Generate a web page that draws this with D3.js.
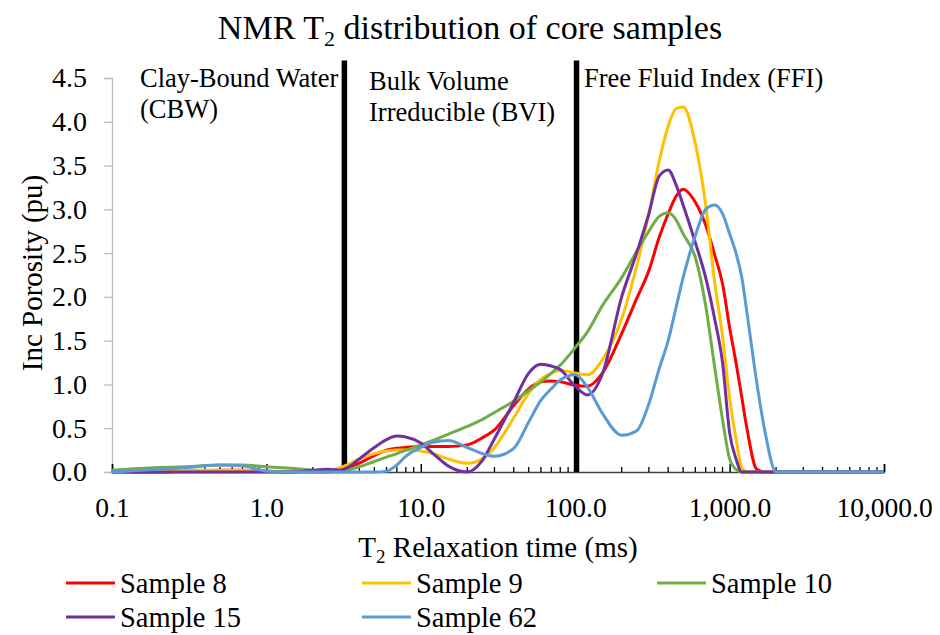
<!DOCTYPE html>
<html>
<head>
<meta charset="utf-8">
<script src="https://cdn.jsdelivr.net/npm/d3@7"></script>
<style>
  body { margin: 0; background: #fff; }
  text { font-family: "Liberation Serif", "Times New Roman", serif; fill: #000; }
</style>
</head>
<body>
<script>
// T2 bins (ms)
var t2 = [0.1, 0.2, 0.3, 0.5, 0.7, 1, 1.5, 2, 2.5, 3, 3.5, 4, 5, 6, 7, 8, 10, 12, 15, 20, 25, 30, 40, 50, 60, 70, 80,
          100, 120, 150, 200, 250, 300, 350, 400, 450, 500, 600, 700, 800, 900, 1000, 1100, 1200, 1300, 1500, 1700,
          2000, 2500, 3000, 5000, 10000];

var sample8  = [0, 0, 0.01, 0.02, 0.02, 0.01, 0, 0, 0, 0.02, 0.06, 0.1, 0.19, 0.25, 0.27, 0.28, 0.29, 0.29, 0.29, 0.31, 0.39, 0.48, 0.76, 0.95, 1.03, 1.04, 1.03,
                0.99, 0.98, 1.13, 1.58, 1.98, 2.3, 2.68, 2.95, 3.15, 3.23, 3.08, 2.82, 2.48, 2.15, 1.65, 1.25, 0.85, 0.48, 0.03, 0,
                0, 0, 0, 0, 0];
var sample9  = [0, 0.01, 0.02, 0.02, 0.02, 0.01, 0, 0, 0.01, 0.05, 0.1, 0.15, 0.21, 0.24, 0.25, 0.25, 0.24, 0.21, 0.15, 0.1, 0.15, 0.28, 0.62, 0.9, 1.06, 1.13, 1.16,
                1.13, 1.11, 1.28, 1.75, 2.35, 2.95, 3.55, 3.95, 4.15, 4.17, 3.75, 3.05, 2.17, 1.55, 0.85, 0.38, 0.05, 0, 0, 0,
                0, 0, 0, 0, 0];
var sample10 = [0.02, 0.05, 0.06, 0.08, 0.08, 0.06, 0.04, 0.02, 0.01, 0, 0.03, 0.06, 0.12, 0.17, 0.21, 0.25, 0.31, 0.36, 0.43, 0.52, 0.6, 0.68, 0.81, 0.93, 1.03, 1.13, 1.22,
                1.42, 1.6, 1.9, 2.22, 2.52, 2.75, 2.92, 2.96, 2.88, 2.72, 2.45, 1.9, 1.2, 0.6, 0.15, 0.03, 0, 0, 0, 0,
                0, 0, 0, 0, 0];
var sample15 = [0, 0, 0, 0, 0, 0, 0, 0.02, 0.03, 0.02, 0.07, 0.15, 0.28, 0.37, 0.41, 0.4, 0.33, 0.21, 0.07, 0, 0.13, 0.38, 0.8, 1.13, 1.23, 1.21, 1.17,
                0.98, 0.88, 1.12, 2.0, 2.5, 2.95, 3.38, 3.45, 3.28, 3.05, 2.62, 2.22, 1.75, 1.25, 0.45, 0.15, 0, 0, 0, 0,
                0, 0, 0, 0, 0];
var sample62 = [0, 0.03, 0.05, 0.08, 0.07, 0.01, 0, 0, 0, 0, 0, 0, 0, 0.01, 0.08, 0.18, 0.28, 0.34, 0.36, 0.28, 0.21, 0.18, 0.27, 0.57, 0.82, 0.95, 1.05,
                1.11, 0.97, 0.67, 0.42, 0.47, 0.78, 1.18, 1.5, 1.88, 2.22, 2.7, 3.0, 3.05, 2.95, 2.72, 2.5, 2.22, 1.8, 1.02, 0.45,
                0, 0, 0, 0, 0];

var seriesNames  = ["Sample 8", "Sample 9", "Sample 10", "Sample 15", "Sample 62"];
var seriesColors = ["#ff0000", "#ffc000", "#70ad47", "#7030a0", "#5b9bd5"];
var seriesValues = [sample8, sample9, sample10, sample15, sample62];

var xTickValues = [0.1, 1, 10, 100, 1000, 10000];
var yTickValues = [0, 0.5, 1, 1.5, 2, 2.5, 3, 3.5, 4, 4.5];
var boundaryT = [3.2, 102];

var w = 940, h = 635;
var svg = d3.select("body").append("svg").attr("width", w).attr("height", h);

var x = d3.scaleLog().domain([0.1, 10000]).range([112, 884]);
var y = d3.scaleLinear().domain([0, 4.5]).range([472, 78]);

// title
var title = svg.append("text").attr("x", 470).attr("y", 39)
   .attr("text-anchor", "middle").attr("font-size", "34px");
title.append("tspan").text("NMR T");
title.append("tspan").attr("font-size", "22px").attr("dy", 7).text("2");
title.append("tspan").attr("dy", -7).text(" distribution of core samples");

// y axis (light grey, ticks outside)
var yAxis = svg.append("g").attr("transform", "translate(112,0)")
   .call(d3.axisLeft(y).tickValues(yTickValues).tickSize(8).tickPadding(17)
     .tickFormat(d3.format(".1f")));
yAxis.select(".domain").attr("stroke", "#bfbfbf").attr("stroke-width", 1.3);
yAxis.selectAll(".tick line").attr("stroke", "#bfbfbf").attr("stroke-width", 1.3);
yAxis.selectAll("text").attr("font-size", "28px").attr("fill", "#000");

// x axis: line at zero, ticks pointing up
var minor = [];
for (var e = -1; e < 4; e++) {
  for (var m = 2; m < 10; m++) minor.push(m * Math.pow(10, e));
}
var xAxis = svg.append("g").attr("transform", "translate(0,472)")
   .call(d3.axisBottom(x).tickValues(xTickValues).tickSize(-8).tickPadding(25)
     .tickFormat(d3.format(",.1f")));
xAxis.select(".domain").attr("stroke", "#404040").attr("stroke-width", 1.5);
xAxis.selectAll(".tick line").attr("stroke", "#000").attr("stroke-width", 1.5);
xAxis.selectAll("text").attr("font-size", "27.5px").attr("fill", "#000");

svg.append("g").selectAll("line")
   .data(minor).enter().append("line")
   .attr("x1", function(d) { return x(d); })
   .attr("x2", function(d) { return x(d); })
   .attr("y1", 472).attr("y2", 467)
   .attr("stroke", "#000").attr("stroke-width", 1.3);

// boundary lines
svg.append("g").selectAll("line")
   .data(boundaryT).enter().append("line")
   .attr("x1", function(d) { return x(d); })
   .attr("x2", function(d) { return x(d); })
   .attr("y1", y(0)).attr("y2", y(4.7))
   .attr("stroke", "#000").attr("stroke-width", 5.5);

// curves
var line = d3.line()
   .x(function(d, i) { return x(t2[i]); })
   .y(function(d) { return y(d); })
   .curve(d3.curveMonotoneX);

svg.append("g").selectAll("path")
   .data(seriesValues).enter().append("path")
   .attr("d", line)
   .attr("fill", "none")
   .attr("stroke", function(d, i) { return seriesColors[i]; })
   .attr("stroke-width", 3)
   .attr("stroke-linejoin", "round");

// zone labels
var zones = [
  { x: 140, y: 87, lines: ["Clay-Bound Water", "(CBW)"] },
  { x: 369, y: 90, lines: ["Bulk Volume", "Irreducible (BVI)"] },
  { x: 584, y: 87, lines: ["Free Fluid Index (FFI)"] }
];
zones.forEach(function(z) {
  var t = svg.append("text").attr("x", z.x).attr("y", z.y).attr("font-size", "26.5px");
  z.lines.forEach(function(s, i) {
    t.append("tspan").attr("x", z.x).attr("dy", i === 0 ? 0 : 31).text(s);
  });
});

// axis titles
var xt = svg.append("text").attr("x", 498).attr("y", 557)
   .attr("text-anchor", "middle").attr("font-size", "29px");
xt.append("tspan").text("T");
xt.append("tspan").attr("font-size", "19px").attr("dy", 6).text("2");
xt.append("tspan").attr("dy", -6).text(" Relaxation time (ms)");

svg.append("text")
   .attr("transform", "translate(42,273) rotate(-90)")
   .attr("text-anchor", "middle").attr("font-size", "29px")
   .text("Inc Porosity (pu)");

// legend
var legX = [66, 362, 657];
var leg = svg.append("g").selectAll("g")
   .data(seriesNames).enter().append("g")
   .attr("transform", function(d, i) {
     return "translate(" + legX[i % 3] + "," + (583 + Math.floor(i / 3) * 34) + ")";
   });
leg.append("line").attr("x1", 0).attr("x2", 49).attr("y1", 0).attr("y2", 0)
   .attr("stroke", function(d, i) { return seriesColors[i]; })
   .attr("stroke-width", 3);
leg.append("text").attr("x", 54).attr("y", 10).attr("font-size", "28.5px")
   .text(function(d) { return d; });
</script>
</body>
</html>
